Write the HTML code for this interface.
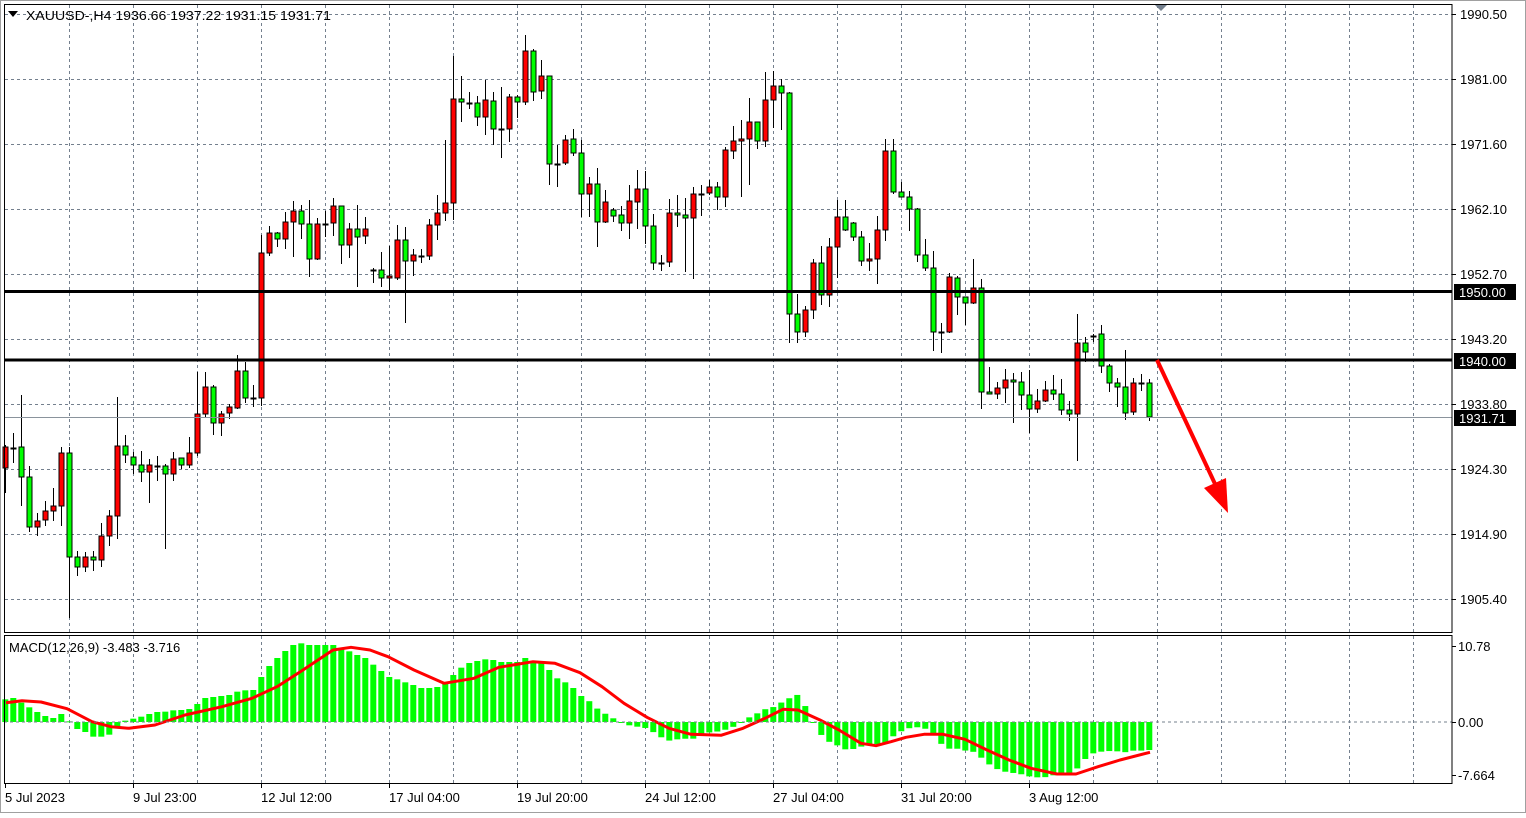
<!DOCTYPE html>
<html><head><meta charset="utf-8"><style>
body{margin:0;background:#fff;width:1526px;height:813px;overflow:hidden;font-family:"Liberation Sans",sans-serif}
svg text{font-family:"Liberation Sans",sans-serif}
</style></head><body>
<svg id="s" width="1526" height="813" viewBox="0 0 1526 813" xmlns="http://www.w3.org/2000/svg">
<rect x="0" y="0" width="1526" height="813" fill="#fff"/>
<rect x="0.5" y="0.5" width="1525" height="812" fill="none" stroke="#a0a0a0"/>
<g id="grid" stroke="#74808e" stroke-dasharray="3,3" stroke-width="1"></g>
<g id="hist"></g>
<g id="candles"></g>
<line x1="5" y1="417.5" x2="1452" y2="417.5" stroke="#8a939c" stroke-width="1"/>
<line x1="5" y1="291.5" x2="1452" y2="291.5" stroke="#000" stroke-width="3"/>
<line x1="5" y1="360" x2="1452" y2="360" stroke="#000" stroke-width="3"/>
<polyline id="sig" fill="none" stroke="#f00" stroke-width="3" stroke-linejoin="round"/>
<line x1="4" y1="722" x2="1452" y2="722" stroke="#74808e" stroke-dasharray="3,3"/>
<rect x="4.5" y="4.5" width="1447.5" height="628" fill="none" stroke="#000"/>
<rect x="4.5" y="635.5" width="1447.5" height="148" fill="none" stroke="#000"/>
<polygon points="1155,5 1167,5 1161,11" fill="#74808e"/>
<line x1="1157" y1="360" x2="1216" y2="486" stroke="#f00" stroke-width="4"/>
<polygon points="1204,488 1226,478 1228,513" fill="#f00"/>
<g id="axis" font-size="13" fill="#000"></g>
<text x="26" y="20" font-size="13" textLength="305" lengthAdjust="spacingAndGlyphs">XAUUSD-,H4  1936.66 1937.22 1931.15 1931.71</text>
<polygon points="8,11 18,11 13,17" fill="#000"/>
<text x="9" y="652" font-size="13">MACD(12,26,9) -3.483 -3.716</text>
</svg>
<script>
var NS="http://www.w3.org/2000/svg",S=document.getElementById('s');
function el(p,t,a,txt){var e=document.createElementNS(NS,t);for(var k in a)e.setAttribute(k,a[k]);if(txt!=null)e.textContent=txt;p.appendChild(e);return e;}
var G=document.getElementById('grid');
var hy=[14,79,144,209,274,339,404,469,534,599];
hy.forEach(function(y){el(G,'line',{x1:5,y1:y+.5,x2:1452,y2:y+.5});});
for(var j=0;j<22;j++){var x=69.5+64*j;el(G,'line',{x1:x,y1:5,x2:x,y2:632});el(G,'line',{x1:x,y1:636,x2:x,y2:783});}
var A=document.getElementById('axis');
var lab=["1990.50","1981.00","1971.60","1962.10","1952.70","1943.20","1933.80","1924.30","1914.90","1905.40"];
hy.forEach(function(y,i){el(A,'line',{x1:1452,y1:y+.5,x2:1456,y2:y+.5,stroke:'#000'});el(A,'text',{x:1460,y:y+5},lab[i]);});
[[646,"10.78"],[722,"0.00"],[775,"-7.664"]].forEach(function(a){el(A,'line',{x1:1452,y1:a[0]+.5,x2:1456,y2:a[0]+.5,stroke:'#000'});el(A,'text',{x:1458,y:a[0]+5},a[1]);});
[[292,"1950.00"],[361,"1940.00"],[418,"1931.71"]].forEach(function(a){el(A,'rect',{x:1454,y:a[0]-8,width:62,height:16,fill:'#000'});el(A,'text',{x:1459,y:a[0]+5,fill:'#fff'},a[1]);});
var dl=[[5,"5 Jul 2023"],[133,"9 Jul 23:00"],[261,"12 Jul 12:00"],[389,"17 Jul 04:00"],[517,"19 Jul 20:00"],[645,"24 Jul 12:00"],[773,"27 Jul 04:00"],[901,"31 Jul 20:00"],[1029,"3 Aug 12:00"]];
dl.forEach(function(d){el(A,'line',{x1:d[0]+.5,y1:783,x2:d[0]+.5,y2:788,stroke:'#000'});el(A,'text',{x:d[0],y:802},d[1]);});
var C="445,493,447,468,r|433,463,448,448,d|395,506,447,477,g|466,532,477,527,g|513,536,521,527,r|501,526,511,520,r|488,521,506,511,r|447,526,453,506,r|447,618,453,557,g|551,576,557,567,g|552,572,557,567,r|551,571,557,560,g|523,567,536,560,r|510,546,516,536,r|397,539,446,516,r|435,463,446,455,g|452,474,457,465,g|451,482,465,472,g|459,503,465,472,r|456,481,466,466,d|464,549,466,474,g|452,481,459,474,r|458,469,458,465,g|437,468,453,465,r|372,456,414,453,r|372,417,387,414,r|385,435,387,423,g|411,436,414,423,r|404,419,407,413,r|355,409,371,408,r|362,403,371,398,g|385,407,398,398,d|235,406,253,398,r|226,256,233,253,r|232,247,233,239,g|212,249,222,239,r|201,257,211,222,r|205,239,211,224,g|200,277,224,259,g|218,260,224,259,r|211,237,224,224,d|198,236,206,223,r|206,264,206,245,g|223,258,229,245,r|205,287,229,237,g|217,244,229,236,r|268,283,270,270,d|252,287,270,278,g|246,290,276,278,r|225,280,240,278,r|227,323,240,261,g|249,276,255,261,r|249,263,256,256,d|219,260,225,256,r|195,240,213,225,r|140,221,203,213,r|56,220,99,203,r|76,122,99,102,g|92,109,103,103,d|96,126,103,117,g|80,135,100,117,r|92,145,101,129,g|87,158,129,129,d|94,142,97,129,r|95,118,97,102,g|35,105,51,102,r|49,101,51,92,g|60,99,76,91,r|76,185,76,164,g|145,187,164,164,d|135,165,140,163,r|129,156,139,153,g|140,217,153,194,g|177,217,184,194,r|168,247,184,222,g|190,223,202,222,r|208,222,210,216,g|206,231,215,223,g|185,239,201,223,r|170,229,189,202,r|171,244,189,226,g|214,270,226,263,g|255,271,263,263,d|199,267,213,262,r|195,227,213,215,g|198,272,215,218,g|187,279,194,218,r|185,216,194,194,d|180,195,187,193,r|182,210,187,197,g|147,207,150,197,r|126,159,141,151,r|120,197,139,141,r|98,185,122,139,r|122,149,122,141,g|72,147,100,141,r|71,128,86,100,r|79,130,86,93,g|92,343,93,314,g|294,343,314,332,g|306,337,310,332,r|259,319,263,310,r|246,305,263,295,g|238,307,247,295,r|200,278,217,247,r|200,231,217,230,g|222,241,223,237,g|231,266,237,261,g|243,271,259,261,r|216,284,230,259,r|139,241,151,230,r|139,194,151,192,g|182,197,192,197,g|191,231,197,209,g|208,262,209,255,g|239,271,255,268,g|251,351,268,332,g|323,353,332,332,d|273,333,277,332,r|276,315,278,297,g|297,325,297,303,g|259,304,288,303,r|279,409,288,392,g|367,394,392,394,g|382,399,388,394,r|369,403,380,388,r|373,423,380,382,g|372,410,382,395,g|370,433,395,409,g|389,413,401,409,r|381,402,390,401,r|375,400,390,394,g|379,415,394,410,g|401,421,410,414,g|314,461,343,414,r|337,362,343,352,g|334,342,336,336,d|325,373,334,366,g|364,392,366,383,g|378,407,383,387,g|350,420,387,413,g|378,415,383,412,r|374,391,383,383,d|379,421,383,417,g".split('|');
var CG=document.getElementById('candles');
C.forEach(function(s,k){var a=s.split(',');var x=Math.round(5.3+8*k)+.5;var wt=+a[0],wb=+a[1],bt=+a[2],bb=+a[3],c=a[4];
el(CG,'line',{x1:x,y1:wt,x2:x,y2:wb,stroke:'#000'});
if(c=='d'||bb-bt<1){el(CG,'line',{x1:x-3,y1:bt+.5,x2:x+3,y2:bt+.5,stroke:'#000',"stroke-width":2});}
else el(CG,'rect',{x:x-2.5,y:bt,width:5,height:bb-bt,fill:c=='r'?'#f00':'#0f0',stroke:'#000'});});
var h1=[208,204,218,232,246,258,264,252,274,297,306,320,320,314,290,272,266,260,252,246,245,241,240,237,222,204,201,198,195,185,181,180,141,108,84,63,45,40,45,45,45,45,55,64,75,84,104,123,141,148,157,165,174,174,171,162,135,113,99,93,88,90,96,96,96,84,96,99,120,145,157,174];
var h2=[198,215,240,255,270,282,290,290,302,320,332,328,326,326,306,308,302,296,282,265,252,238,231,216,202,192,249,300,332,341,358,358,350,344,342,340,310,300,290,294,300,338,356,356,362,366,388,410,422,428,430,438,442,442,436,432,432,410,376,366,364,362,368,362,362,360];
var h3=[];for(var i=0;i<72;i++){var t=i*(h2.length-1)/71,f=Math.floor(t),r=t-f;h3.push(f+1<h2.length?h2[f]*(1-r)+h2[f+1]*r:h2[f]);}
var H=h1.concat(h3).map(function(v){return v/3+630;});
var HG=document.getElementById('hist');
H.forEach(function(y,k){var x=5.3+8*k;var t=Math.min(y,722),b=Math.max(y,722);if(b-t<1)b=t+1;el(HG,'rect',{x:x-3,y:t,width:6,height:b-t,fill:'#0f0'});});
document.getElementById('sig').setAttribute('points',"6,702.7 22,700.7 41,702 67,708.7 92,721.7 111,726.7 129,728.3 155,725 185,715 222,706.7 252,698.3 277,686.7 303,670 333,650 351,647.3 370,650 388,656.7 414,670 444,683.3 474,678.3 499,667.3 533,661.7 555,663.3 580,672.7 602,686.7 624,703.3 647,717.3 669,728.3 691,734.3 721,735.3 743,728.3 765,718.3 783,709.3 798,710 820,720 839,730 861,743.3 876,745.7 891,741.7 906,737.3 924,734.3 943,734.3 965,739.3 987,750 1009,760 1031,768.3 1057,774 1076,774 1098,766.7 1120,760 1150,752.3");
</script>
</body></html>
